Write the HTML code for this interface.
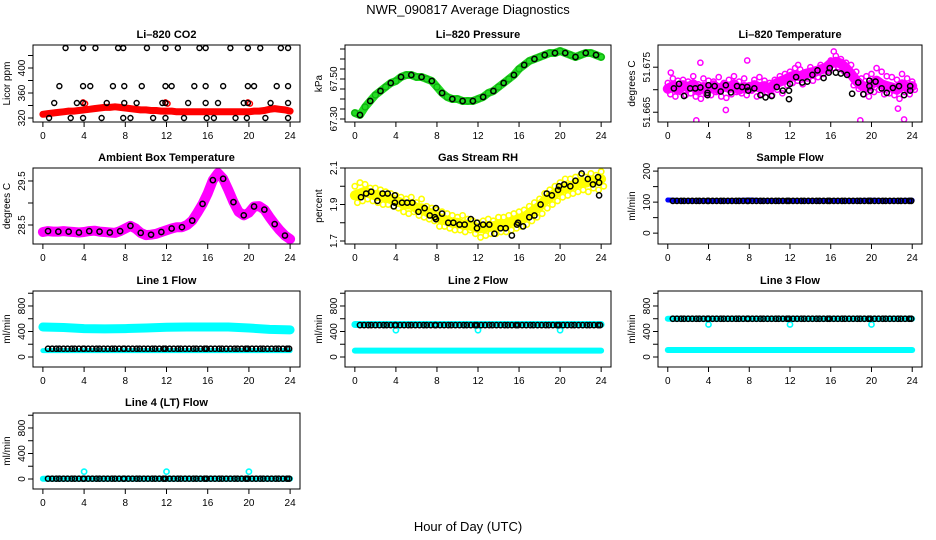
<!DOCTYPE html>
<html><head><meta charset="utf-8"><title>NWR_090817 Average Diagnostics</title>
<style>
html,body{margin:0;padding:0;background:#fff;}
svg{display:block;font-family:"Liberation Sans",Arial,sans-serif;}
</style></head>
<body>
<svg id="chart" width="936" height="540" viewBox="0 0 936 540">
<rect width="936" height="540" fill="#fff"/>
<text x="468" y="14" text-anchor="middle" font-size="13">NWR_090817  Average Diagnostics</text>
<text x="468" y="531" text-anchor="middle" font-size="13">Hour of Day (UTC)</text>
</svg>
<script>
// ---------- data ----------
const H49=[0,0.5,1,1.5,2,2.5,3,3.5,4,4.5,5,5.5,6,6.5,7,7.5,8,8.5,9,9.5,10,10.5,11,11.5,12,12.5,13,13.5,14,14.5,15,15.5,16,16.5,17,17.5,18,18.5,19,19.5,20,20.5,21,21.5,22,22.5,23,23.5,24];
const H13=[0,2,4,6,8,10,12,14,16,18,20,22,24];
const blackHours=[0.5,0.9,1.3,1.6,2.0,2.4,2.8,3.1,3.5,3.9,4.0,4.4,4.8,5.2,5.5,5.9,6.3,6.7,7.0,7.4,7.8,7.9,8.3,8.7,9.1,9.4,9.8,10.2,10.6,10.9,11.3,11.7,11.9,12.3,12.7,13.1,13.4,13.8,14.2,14.6,14.9,15.3,15.7,15.9,16.3,16.7,17.1,17.4,17.8,18.2,18.6,18.9,19.3,19.7,19.9,20.3,20.7,21.1,21.4,21.8,22.2,22.6,22.9,23.3,23.7,23.9];

const co2Red=[326,327,328,329,330,331,331,332,333,334,335,336,337,337,338,337,336,335,334,333,333,332,332,331,331,331,330,330,330,330,330,330,330,330,330,330,330,330,330,330,330,331,331,332,334,335,334,333,331];
const co2RedExtra=[[3.9,345],[4.1,343],[11.9,345],[12.1,343],[19.9,345],[20.1,343]];
const co2Black=[[2.2,432],[3.9,432],[5.1,432],[7.3,432],[7.8,432],[10.1,432],[11.9,432],[13.1,432],[15.2,432],[15.8,432],[18.2,432],[19.9,432],[21.1,432],[23.1,432],[23.8,432],
[1.6,371],[3.9,371],[4.6,371],[6.8,371],[7.9,371],[9.6,371],[11.9,371],[12.5,371],[14.7,371],[15.8,371],[17.5,371],[19.9,371],[20.5,371],[22.7,371],[23.8,371],
[1.1,344],[3.3,344],[3.9,344],[6.2,344],[7.9,344],[9.1,344],[11.6,344],[11.9,344],[14.1,344],[15.8,344],[17.0,344],[19.5,344],[19.9,344],[22.1,344],[23.8,344],
[0.6,320],[2.7,320],[3.9,320],[5.7,320],[7.8,320],[8.5,320],[10.7,320],[11.9,320],[13.7,320],[15.9,320],[16.6,320],[18.7,320],[19.8,320],[21.6,320],[23.8,320]];

const pressGreen=[67.33,67.32,67.36,67.39,67.42,67.44,67.46,67.48,67.49,67.51,67.52,67.52,67.51,67.51,67.50,67.49,67.46,67.43,67.41,67.40,67.40,67.39,67.39,67.39,67.40,67.41,67.43,67.44,67.46,67.48,67.50,67.52,67.55,67.57,67.59,67.60,67.61,67.62,67.63,67.63,67.64,67.63,67.62,67.61,67.62,67.63,67.63,67.62,67.61];

const tempA=[51.6715,51.6725,51.6720,51.6722,51.6718,51.6730,51.6712,51.6725,51.6720,51.6718,51.6728,51.6715,51.6722,51.6730,51.6718,51.6725,51.6710,51.6722,51.6728,51.6720,51.6715,51.6722,51.6730,51.6735,51.6740,51.6748,51.6745,51.6738,51.6750,51.6745,51.6755,51.6752,51.6765,51.6775,51.6768,51.6760,51.6755,51.6740,51.6725,51.6730,51.6735,51.6748,51.6740,51.6730,51.6728,51.6722,51.6735,51.6725,51.6718];
const tempB=[51.6690,51.6685,51.6695,51.6688,51.6692,51.6685,51.6680,51.6690,51.6688,51.6695,51.6685,51.6682,51.6690,51.6695,51.6692,51.6688,51.6698,51.6685,51.6690,51.6695,51.6688,51.6700,51.6692,51.6710,51.6715,51.6720,51.6712,51.6725,51.6720,51.6728,51.6735,51.6742,51.6748,51.6750,51.6742,51.6735,51.6710,51.6702,51.6690,51.6685,51.6695,51.6700,51.6690,51.6692,51.6688,51.6680,51.6695,51.6690,51.6700];
const tempMid=[51.6702,51.6708,51.6700,51.6710,51.6705,51.6712,51.6698,51.6706,51.6702,51.6710,51.6700,51.6708,51.6704,51.6712,51.6700,51.6706,51.6702,51.6710,51.6705,51.6708,51.6702,51.6712,51.6718,51.6722,51.6728,51.6732,51.6730,51.6735,51.6738,51.6740,51.6745,51.6748,51.6758,51.6762,51.6758,51.6748,51.6735,51.6720,51.6710,51.6705,51.6712,51.6720,51.6712,51.6708,51.6705,51.6700,51.6712,51.6705,51.6708];
const tempOutliers=[[2.8,51.6632],[18.9,51.6632],[23.2,51.6634],[16.3,51.6785],[5.7,51.6655],[22.6,51.6658],[3.2,51.6760],[7.8,51.6765],[12.8,51.6755],[0.3,51.6738]];
const tempBlack=[[0.6,51.6703],[1.1,51.6713],[1.6,51.6686],[2.2,51.6703],[2.7,51.6703],[3.2,51.6705],[3.9,51.6693],[3.9,51.6688],[4.0,51.6710],[4.6,51.6708],[5.2,51.6696],[5.7,51.6710],[6.2,51.6694],[6.8,51.6708],[7.3,51.6706],[7.8,51.6706],[7.9,51.6698],[8.5,51.6703],[9.1,51.6688],[9.6,51.6683],[10.2,51.6686],[10.7,51.6706],[11.3,51.6698],[11.9,51.6698],[11.9,51.6679],[12.0,51.6713],[12.6,51.6728],[13.2,51.6716],[13.7,51.6718],[14.2,51.6733],[14.7,51.6743],[15.3,51.6726],[15.8,51.6738],[15.9,51.6748],[16.5,51.6738],[17.0,51.6736],[17.6,51.6733],[18.1,51.6691],[18.7,51.6716],[19.2,51.6690],[19.8,51.6720],[19.8,51.6708],[19.9,51.6698],[20.4,51.6718],[21.0,51.6703],[21.5,51.6693],[22.1,51.6704],[22.7,51.6708],[23.2,51.6688],[23.8,51.6698],[23.8,51.6708]];

const ambient=[28.34,28.36,28.35,28.35,28.36,28.35,28.34,28.33,28.34,28.36,28.37,28.35,28.34,28.33,28.32,28.36,28.42,28.48,28.42,28.32,28.27,28.28,28.30,28.34,28.38,28.42,28.45,28.45,28.50,28.60,28.78,28.98,29.22,29.52,29.68,29.55,29.30,29.02,28.80,28.72,28.78,28.92,28.93,28.85,28.68,28.52,28.38,28.26,28.18];

const rhMid=[1.95,1.96,1.97,1.96,1.95,1.95,1.94,1.93,1.92,1.91,1.90,1.90,1.88,1.88,1.86,1.85,1.83,1.82,1.81,1.80,1.80,1.79,1.79,1.78,1.77,1.77,1.78,1.78,1.79,1.79,1.80,1.81,1.82,1.83,1.85,1.87,1.89,1.92,1.94,1.96,1.98,1.99,2.00,2.01,2.02,2.02,2.03,2.03,2.04];
const rhHi=[2.00,2.02,2.01,1.99,1.99,1.98,1.97,1.96,1.95,1.94,1.93,1.94,1.91,1.93,1.89,1.88,1.87,1.86,1.85,1.84,1.83,1.84,1.82,1.81,1.80,1.81,1.82,1.81,1.83,1.83,1.84,1.85,1.86,1.87,1.89,1.91,1.93,1.96,1.98,2.00,2.02,2.04,2.04,2.05,2.06,2.05,2.07,2.06,2.08];
const rhLo=[1.91,1.92,1.93,1.92,1.91,1.90,1.90,1.89,1.88,1.86,1.85,1.86,1.84,1.83,1.82,1.81,1.78,1.78,1.77,1.76,1.76,1.75,1.76,1.74,1.72,1.73,1.74,1.74,1.75,1.75,1.76,1.77,1.78,1.79,1.81,1.83,1.85,1.88,1.90,1.92,1.94,1.95,1.96,1.97,1.98,1.97,1.99,1.98,2.00];
const rhBlack=[[0.6,1.94],[1.1,1.96],[1.6,1.97],[2.2,1.92],[2.7,1.96],[3.2,1.96],[3.8,1.89],[3.9,1.91],[3.9,1.95],[4.6,1.91],[5.1,1.91],[5.6,1.91],[6.2,1.86],[6.8,1.88],[7.3,1.84],[7.8,1.83],[7.9,1.82],[7.9,1.88],[8.5,1.85],[9.1,1.80],[9.6,1.80],[10.2,1.79],[10.7,1.79],[11.3,1.82],[11.9,1.77],[11.9,1.80],[12.5,1.79],[13.1,1.79],[13.6,1.74],[14.2,1.77],[14.7,1.77],[15.3,1.73],[15.8,1.79],[15.9,1.80],[16.4,1.78],[17.0,1.83],[17.5,1.84],[18.1,1.90],[18.7,1.96],[19.2,1.95],[19.8,1.98],[19.9,2.00],[20.4,2.01],[21.0,2.00],[21.5,2.03],[22.1,2.07],[22.7,2.04],[23.2,2.01],[23.7,2.05],[23.8,1.95],[23.8,2.02]];

const sampleBlue=[107,104,104,104,107,104,104,104,105,105,106,105,106];
const sampleBlack=[104,104,104,104,104,104,104,104,104,104,104,104,104];

const line1Hi=[470,462,445,440,445,455,465,470,470,470,455,432,425];
const line1Lo=[100,100,100,100,100,100,100,100,100,100,100,100,100];
const line1Black=[130,130,130,130,130,130,130,130,130,130,130,130,130];
const line2Hi=[510,510,510,510,510,510,510,510,510,510,510,510,510];
const line2Lo=[100,100,100,100,100,100,100,100,100,100,100,100,100];
const line2Black=[500,500,500,500,500,500,500,500,500,500,500,500,500];
const line2Outliers=[[4,420],[12,420],[20,420]];
const line3Hi=[600,600,600,600,600,600,600,600,600,600,600,600,600];
const line3Lo=[110,110,110,110,110,110,110,110,110,110,110,110,110];
const line3Black=[600,600,600,600,600,600,600,600,600,600,600,600,600];
const line3Outliers=[[4,510],[12,510],[20,510]];
const line4Cyan=[5,5,5,5,5,5,5,5,5,5,5,5,5];
const line4Black=[5,5,5,5,5,5,5,5,5,5,5,5,5];
const line4Outliers=[[4,115],[12,115],[20,115]];

const xTicks=[0,4,8,12,16,20,24];

// ---------- layout ----------
const colL=[33,345,658], colR=[300,611,922];
const rowT=[45,168,291,413], rowB=[122,244,367,489];
const NS="http://www.w3.org/2000/svg";
const svg=document.getElementById('chart');
function el(tag,attrs,parent){const e=document.createElementNS(NS,tag);for(const k in attrs)e.setAttribute(k,attrs[k]);(parent||svg).appendChild(e);return e;}
function interp(hs,vs,h){for(let i=0;i<hs.length-1;i++){if(h>=hs[i]&&h<=hs[i+1]){const t=(h-hs[i])/(hs[i+1]-hs[i]);return vs[i]+t*(vs[i+1]-vs[i]);}}return h<hs[0]?vs[0]:vs[vs.length-1];}

function panel(c,r,name,title,ylab,ymin,ymax,ticks,labels){
  const L=colL[c],R=colR[c],T=rowT[r],B=rowB[r];
  const x=h=>L+(h+0.96)/25.92*(R-L);
  const y=v=>B-(v-ymin)/(ymax-ymin)*(B-T);
  const g=el('g',{});
  
  
  const t=el('text',{x:(L+R)/2,y:T-7,'text-anchor':'middle','font-size':11,'font-weight':'bold'},g);
  t.textContent=title;
  
  
  const ax=el('g',{stroke:'#000','stroke-width':1,fill:'none'},g);
  
  
  el('line',{x1:x(0),x2:x(24),y1:B,y2:B},ax);
  xTicks.forEach(h=>{
    el('line',{x1:x(h),x2:x(h),y1:B,y2:B+5},ax);
    const tl=el('text',{x:x(h),y:B+17,'text-anchor':'middle','font-size':10,fill:'#000',stroke:'none'},g);
    tl.textContent=h;
    
    
  });
  const ay=el('g',{stroke:'#000','stroke-width':1,fill:'none'},g);
  
  
  ticks.forEach(v=>{const yy=y(v);el('line',{x1:L-5,x2:L,y1:yy,y2:yy},ay);});
  labels.forEach(v=>{
    const yy=y(+v);
    const tl=el('text',{x:L-8,y:yy,'text-anchor':'middle','font-size':10,transform:`rotate(-90 ${L-8} ${yy})`},g);
    tl.textContent=v;
    
    
  });
  const yl=el('text',{x:L-23,y:(T+B)/2,'text-anchor':'middle','font-size':10,transform:`rotate(-90 ${L-23} ${(T+B)/2})`},g);
  yl.textContent=ylab;
  
  
  const id='clip-'+name;
  const cp=el('clipPath',{id:id},g);el('rect',{x:L,y:T,width:R-L,height:B-T},cp);
  const marks=el('g',{'clip-path':`url(#${id})`},g);
  
  
  const box=el('rect',{x:L,y:T,width:R-L,height:B-T,fill:'none',stroke:'#000','stroke-width':1},g);
  
  
  return {x,y,marks};
}
function band(p,hs,vs,color,w,nm){
  const d=hs.map((h,i)=>(i?'L':'M')+p.x(h).toFixed(1)+','+p.y(vs[i]).toFixed(1)).join('');
  const e=el('path',{d:d,fill:'none',stroke:color,'stroke-width':w,'stroke-linejoin':'round','stroke-linecap':'round'},p.marks);
  
  
}
function pts(p,hs,vs,color,rr,sw,nm){
  hs.forEach((h,i)=>{
    const c=el('circle',{cx:p.x(h),cy:p.y(vs[i]),r:rr,fill:'none',stroke:color,'stroke-width':sw},p.marks);
    
    
  });
}
function pairs(p,arr,color,rr,sw,nm){pts(p,arr.map(a=>a[0]),arr.map(a=>a[1]),color,rr,sw,nm);}
function blackOn(p,hs,vs,nm){pts(p,blackHours,blackHours.map(h=>interp(hs,vs,h)),'#000',2.6,1.5,nm);}

// Panel 1: CO2
let p=panel(0,0,'li820-co2','Li\u2013820 CO2','Licor ppm',313.6,436.8,[320,340,360,380,400,420],['320','360','400']);
band(p,H49,co2Red,'#ff0000',7,'co2-red-series');
pts(p,H49,co2Red,'#ff0000',2.5,1.5,'co2-red-point');
pairs(p,co2RedExtra,'#ff0000',2.5,1.5,'co2-red-point');
pairs(p,co2Black,'#000',2.5,1.4,'co2-black-point');

// Panel 2: Pressure
p=panel(1,0,'li820-pressure','Li\u2013820 Pressure','kPa',67.285,67.67,[67.30,67.35,67.40,67.45,67.50,67.55,67.60,67.65],['67.30','67.50']);
band(p,H49,pressGreen,'#22dd22',8,'pressure-green-series');
pts(p,H49,pressGreen,'#11aa11',3,1.2,'pressure-green-point');
pts(p,H49.filter((h,i)=>i%2),pressGreen.filter((v,i)=>i%2),'#000',2.6,1.5,'pressure-black-point');

// Panel 3: Li-820 temperature
p=panel(2,0,'li820-temperature','Li\u2013820 Temperature','degrees C',51.66283,51.67993,[51.665,51.670,51.675],['51.665','51.675']);
band(p,H49,tempMid,'#ff00ff',10,'temp-magenta-core');
pts(p,H49,tempA,'#ff00ff',2.6,1.5,'temp-magenta-point');
pts(p,H49.map(h=>h+0.25),tempB,'#ff00ff',2.6,1.5,'temp-magenta-point');
pts(p,H49.map(h=>h+0.12),tempMid,'#ff00ff',2.6,1.5,'temp-magenta-point');
pairs(p,tempOutliers,'#ff00ff',2.6,1.5,'temp-magenta-point');
pairs(p,tempBlack,'#000',2.6,1.5,'temp-black-point');

// Panel 4: Ambient box temperature
p=panel(0,1,'ambient-box-temperature','Ambient Box Temperature','degrees C',28.068,29.795,[28.5,29.0,29.5],['28.5','29.5']);
band(p,H49,ambient,'#ff00ff',10,'ambient-magenta-series');
pts(p,H49.filter((h,i)=>i%2),ambient.filter((v,i)=>i%2),'#000',2.6,1.5,'ambient-black-point');

// Panel 5: Gas stream RH
p=panel(1,1,'gas-stream-rh','Gas Stream RH','percent',1.6836,2.1,[1.7,1.8,1.9,2.0,2.1],['1.7','1.9','2.1']);
band(p,H49,rhMid,'#ffff00',10,'rh-yellow-core');
pts(p,H49,rhHi,'#ffff00',2.7,1.6,'rh-yellow-point');
pts(p,H49.map(h=>h+0.25),rhLo,'#ffff00',2.7,1.6,'rh-yellow-point');
pts(p,H49.map(h=>h+0.12),rhMid,'#ffff00',2.7,1.6,'rh-yellow-point');
pairs(p,rhBlack,'#000',2.6,1.5,'rh-black-point');

// Panel 6: Sample flow
p=panel(2,1,'sample-flow','Sample Flow','ml/min',-35,210,[0,50,100,150,200],['0','100','200']);
band(p,H13,sampleBlue,'#0000ff',5,'sample-blue-series');
blackOn(p,H13,sampleBlack,'sample-black-point');

const flowTicks=[0,200,400,600,800,1000], flowLabels=['0','400','800'];
// Panel 7: Line 1
p=panel(0,2,'line1-flow','Line 1 Flow','ml/min',-157,1035,flowTicks,flowLabels);
band(p,H13,line1Hi,'#00ffff',9,'line1-cyan-upper');
band(p,H13,line1Lo,'#00ffff',5,'line1-cyan-lower');
blackOn(p,H13,line1Black,'line1-black-point');

// Panel 8: Line 2
p=panel(1,2,'line2-flow','Line 2 Flow','ml/min',-157,1035,flowTicks,flowLabels);
band(p,H13,line2Hi,'#00ffff',7,'line2-cyan-upper');
band(p,H13,line2Lo,'#00ffff',6,'line2-cyan-lower');
pairs(p,line2Outliers,'#00ffff',2.6,1.6,'line2-cyan-outlier');
blackOn(p,H13,line2Black,'line2-black-point');

// Panel 9: Line 3
p=panel(2,2,'line3-flow','Line 3 Flow','ml/min',-157,1035,flowTicks,flowLabels);
band(p,H13,line3Hi,'#00ffff',6,'line3-cyan-upper');
band(p,H13,line3Lo,'#00ffff',6,'line3-cyan-lower');
pairs(p,line3Outliers,'#00ffff',2.6,1.6,'line3-cyan-outlier');
blackOn(p,H13,line3Black,'line3-black-point');

// Panel 10: Line 4
p=panel(0,3,'line4-flow','Line 4 (LT) Flow','ml/min',-157,1035,flowTicks,flowLabels);
band(p,H13,line4Cyan,'#00ffff',6,'line4-cyan-series');
pairs(p,line4Outliers,'#00ffff',2.6,1.6,'line4-cyan-outlier');
blackOn(p,H13,line4Black,'line4-black-point');
</script>
</body></html>
